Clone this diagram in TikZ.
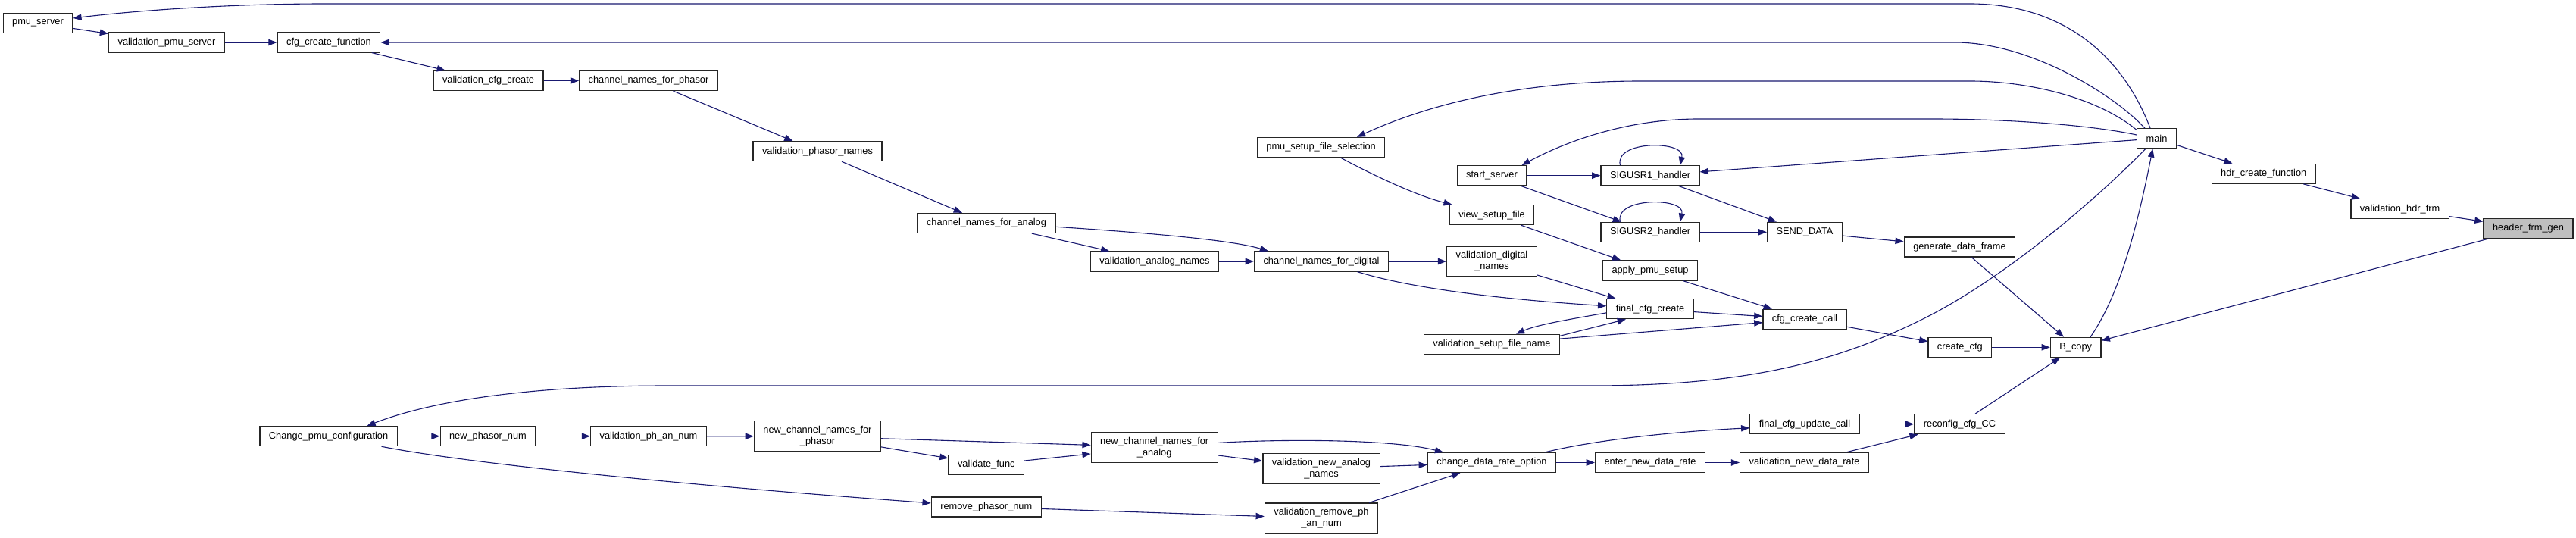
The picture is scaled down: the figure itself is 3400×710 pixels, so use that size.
\documentclass[tikz,border=0pt]{standalone}
\usepackage{fontspec}
\setmainfont{Liberation Sans}
\usetikzlibrary{arrows.meta}
\definecolor{edgeblue}{HTML}{191970}
\definecolor{focusgray}{HTML}{BFBFBF}

\tikzset{
  fn/.style={draw=black!85, line width=0.6pt, fill=white, minimum height=13pt,
    inner xsep=6pt, inner ysep=0pt, align=center, font=\fontsize{6.4}{7.5}\selectfont},
  fnn/.style={fn, minimum height=20pt},
  call/.style={-{Triangle[length=5.6pt,width=4.2pt]}, edgeblue, line width=0.55pt},
}

\begin{document}
\begin{tikzpicture}[x=0.5pt, y=-0.5pt]
    \useasboundingbox (0,0) rectangle (3400,710);
    % top band
    \node[fn] (pmu) at (50,30.5) {pmu\_server};
    \node[fn] (vpmu) at (220,56) {validation\_pmu\_server};
    \node[fn] (cfgfn) at (434,56) {cfg\_create\_function};
    \node[fn] (vcfg) at (644.5,106.5) {validation\_cfg\_create};
    \node[fn] (chph) at (856,106.5) {channel\_names\_for\_phasor};
    \node[fn] (vphn) at (1079,199.7) {validation\_phasor\_names};
    \node[fn] (chan) at (1302,294.5) {channel\_names\_for\_analog};
    \node[fn] (van) at (1524,345) {validation\_analog\_names};
    \node[fn] (psfs) at (1743.6,194.5) {pmu\_setup\_file\_selection};
    \node[fn] (chdig) at (1744,345) {channel\_names\_for\_digital};
    \node[fn] (start) at (1969,231.7) {start\_server};
    \node[fn] (vsf) at (1969,283.7) {view\_setup\_file};
    \node[fnn] (vdig) at (1969,345) {validation\_digital\\\_names};
    \node[fn] (sig1) at (2178,231.7) {SIGUSR1\_handler};
    \node[fn] (sig2) at (2178,306.3) {SIGUSR2\_handler};
    \node[fn] (apply) at (2178,357) {apply\_pmu\_setup};
    \node[fn] (send) at (2382,306.3) {SEND\_DATA};
    \node[fn] (gdf) at (2586.5,326) {generate\_data\_frame};
    \node[fn] (main) at (2846.5,182.7) {main};
    \node[fn] (hdr) at (2987.7,229.3) {hdr\_create\_function};
    \node[fn] (vhdr) at (3167.6,275.8) {validation\_hdr\_frm};
    \node[fn, fill=focusgray] (hfg) at (3337,301.3) {header\_frm\_gen};
    % middle band
    \node[fn] (fcc) at (2178,407.8) {final\_cfg\_create};
    \node[fn] (vsfn) at (1969,454.3) {validation\_setup\_file\_name};
    \node[fn] (ccc) at (2382,421.2) {cfg\_create\_call};
    \node[fn] (ccfg) at (2586.8,458.3) {create\_cfg};
    \node[fn] (bcopy) at (2739.7,458.3) {B\_copy};
    % bottom band
    \node[fn] (cpc) at (433.6,575.7) {Change\_pmu\_configuration};
    \node[fn] (npn) at (644,575.7) {new\_phasor\_num};
    \node[fn] (vphan) at (856,575.7) {validation\_ph\_an\_num};
    \node[fnn] (ncnp) at (1079,575.8) {new\_channel\_names\_for\\\_phasor};
    \node[fn] (vfunc) at (1301.8,613.2) {validate\_func};
    \node[fn] (rpn) at (1301.8,669) {remove\_phasor\_num};
    \node[fnn] (ncna) at (1523.7,590.3) {new\_channel\_names\_for\\\_analog};
    \node[fnn] (vnan) at (1744,618.3) {validation\_new\_analog\\\_names};
    \node[fnn] (vrph) at (1744,684) {validation\_remove\_ph\\\_an\_num};
    \node[fn] (cdro) at (1969,610.5) {change\_data\_rate\_option};
    \node[fn] (endr) at (2178,610.5) {enter\_new\_data\_rate};
    \node[fn] (vndr) at (2381.6,610.5) {validation\_new\_data\_rate};
    \node[fn] (fcuc) at (2382,559.7) {final\_cfg\_update\_call};
    \node[fn] (rcc) at (2586.5,559.7) {reconfig\_cfg\_CC};

    % calls out of main
    \draw[call] (main.122) .. controls (2800,70) and (2720,5) .. (2600,5) -- (430,5)
      .. controls (300,5) and (180,14) .. (pmu.8);
    \draw[call] (main.139) .. controls (2790,125) and (2680,56) .. (2580,56) -- (cfgfn.east);
    \draw[call] (main.157) .. controls (2770,130) and (2680,107) .. (2600,107) -- (2166,107)
      .. controls (2000,107) and (1880,140) .. (psfs.16);
    \draw[call] (main.170) .. controls (2760,165) and (2650,157) .. (2550,157) -- (2242,157)
      .. controls (2150,157) and (2070,185) .. (start.19);
    \draw[call] (main) -- (sig1);
    \draw[call] (main) -- (hdr);
    \draw[call] (main.-137) .. controls (2760,270) and (2640,370) .. (2540,420)
      .. controls (2420,480) and (2300,509) .. (2100,509) -- (880,509)
      .. controls (720,509) and (580,525) .. (cpc.15);
    \draw[call] (bcopy.35) .. controls (2790,400) and (2815,330) .. (main.-111);

    \draw[call] (pmu) -- (vpmu);
    \draw[call] (vpmu) -- (cfgfn);
    \draw[call] (cfgfn) -- (vcfg);
    \draw[call] (vcfg) -- (chph);
    \draw[call] (chph) -- (vphn);
    \draw[call] (vphn) -- (chan);
    \draw[call] (chan) -- (van);
    \draw[call] (chan.-3) .. controls (1480,305) and (1620,315) .. (chdig.169);
    \draw[call] (van) -- (chdig);
    \draw[call] (psfs) .. controls (1820,235) and (1870,258) .. (vsf);
    \draw[call] (start) -- (sig1);
    \draw[call] (start) -- (sig2);
    \draw[call] (sig1.161) .. controls (2130,185) and (2225,185) .. (sig1.19);
    \draw[call] (sig2.161) .. controls (2130,260) and (2225,260) .. (sig2.19);
    \draw[call] (sig1) -- (send);
    \draw[call] (sig2) -- (send);
    \draw[call] (send) -- (gdf);
    \draw[call] (vsf) -- (apply);
    \draw[call] (chdig) -- (vdig);
    \draw[call] (chdig.-16) .. controls (1860,380) and (1980,395) .. (fcc.176);
    \draw[call] (vdig) -- (fcc);
    \draw[call] (apply) -- (ccc);
    \draw[call] (fcc) -- (ccc);
    \draw[call] (fcc.185) .. controls (2080,420) and (2030,428) .. (vsfn.23);
    \draw[call] (vsfn.7) -- (fcc.-157);
    \draw[call] (vsfn) -- (ccc);
    \draw[call] (ccc) -- (ccfg);
    \draw[call] (ccfg) -- (bcopy);
    \draw[call] (gdf) -- (bcopy);
    \draw[call] (hfg) -- (bcopy);
    \draw[call] (rcc) -- (bcopy);
    \draw[call] (hdr) -- (vhdr);
    \draw[call] (vhdr) -- (hfg);

    \draw[call] (cpc) -- (npn);
    \draw[call] (npn) -- (vphan);
    \draw[call] (vphan) -- (ncnp);
    \draw[call] (cpc.-11) .. controls (620,612) and (900,640) .. (rpn.176);
    \draw[call] (ncnp.-2) -- (ncna.178);
    \draw[call] (ncnp) -- (vfunc);
    \draw[call] (vfunc) -- (ncna);
    \draw[call] (ncna) -- (vnan);
    \draw[call] (ncna.4) .. controls (1700,579) and (1840,580) .. (cdro.168);
    \draw[call] (vnan) -- (cdro);
    \draw[call] (rpn) -- (vrph);
    \draw[call] (vrph) -- (cdro);
    \draw[call] (cdro) -- (endr);
    \draw[call] (endr) -- (vndr);
    \draw[call] (cdro.11) .. controls (2100,582) and (2200,570) .. (fcuc.184);
    \draw[call] (fcuc) -- (rcc);
    \draw[call] (vndr) -- (rcc);
\end{tikzpicture}
\end{document}
